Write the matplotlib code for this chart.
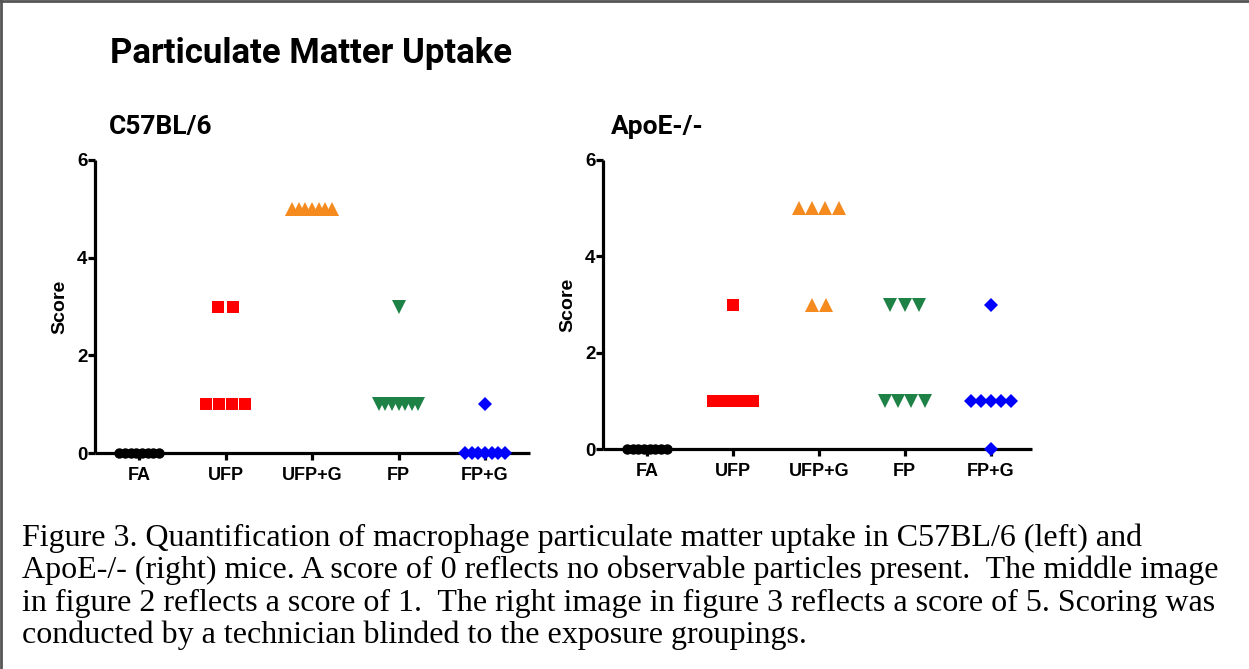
import matplotlib
matplotlib.use('Agg')
import matplotlib.pyplot as plt
import numpy as np
from matplotlib.lines import Line2D

# ---------------- data ----------------
categories = ['FA', 'UFP', 'UFP+G', 'FP', 'FP+G']

c57_FA = [0, 0, 0, 0, 0, 0, 0, 0]
c57_UFP = [3, 3, 1, 1, 1, 1]
c57_UFPG = [5, 5, 5, 5, 5, 5, 5]
c57_FP = [3, 1, 1, 1, 1, 1, 1, 1]
c57_FPG = [1, 0, 0, 0, 0, 0, 0, 0]

apoe_FA = [0, 0, 0, 0, 0, 0, 0, 0]
apoe_UFP = [3, 1, 1, 1, 1, 1, 1, 1]
apoe_UFPG = [5, 5, 5, 5, 3, 3]
apoe_FP = [3, 3, 3, 1, 1, 1, 1]
apoe_FPG = [3, 1, 1, 1, 1, 1, 0]

panel_titles = ['C57BL/6', 'ApoE-/-']
main_title = 'Particulate Matter Uptake'
y_label = 'Score'
y_ticks = [0, 2, 4, 6]
caption_lines = [
    'Figure 3. Quantification of macrophage particulate matter uptake in C57BL/6 (left) and',
    'ApoE-/- (right) mice. A score of 0 reflects no observable particles present.  The middle image',
    'in figure 2 reflects a score of 1.  The right image in figure 3 reflects a score of 5. Scoring was',
    'conducted by a technician blinded to the exposure groupings.',
]

# ---------------- style ----------------
markers = ['o', 's', '^', 'v', 'D']
colors = ['#000000', '#FF0000', '#F58A1F', '#1E8246', '#0000FF']
msizes = [7.5, 8.7, 9.5, 9.5, 7.2]

W, H = 1249, 669
fig = plt.figure(figsize=(W / 100, H / 100), dpi=100)
fig.patch.set_facecolor('white')

TITLE_FONT = ['Roboto', 'DejaVu Sans']
AX_FONT = ['Liberation Sans', 'DejaVu Sans']


def fx(px):
    return px / W


def fy(py):
    return 1 - py / H


def spread(values, max_sp=0.168, span=0.46):
    xs, ys = [], []
    vals = np.asarray(values, dtype=float)
    for v in np.unique(vals):
        n = int(np.sum(vals == v))
        sp = max_sp if n < 2 else min(max_sp, span / (n - 1))
        offs = (np.arange(n) - (n - 1) / 2) * sp
        xs.extend(offs)
        ys.extend([v] * n)
    return np.array(xs), np.array(ys)


def draw_panel(ax, groups, xlim):
    for i, vals in enumerate(groups):
        offs, ys = spread(vals)
        ax.plot(i + offs, ys, linestyle='none', marker=markers[i],
                color=colors[i], markersize=msizes[i], markeredgewidth=0,
                clip_on=False, zorder=5)
    ax.set_xlim(*xlim)
    ax.set_ylim(0, 6)
    ax.set_yticks(y_ticks)
    ax.set_xticks(range(len(categories)))
    ax.set_xticklabels(categories, fontfamily=AX_FONT, fontweight='bold', fontsize=13)
    ax.set_yticklabels([str(t) for t in y_ticks], fontfamily=AX_FONT,
                       fontweight='bold', fontsize=13.5)
    for s in ['top', 'right']:
        ax.spines[s].set_visible(False)
    for s in ['left', 'bottom']:
        ax.spines[s].set_linewidth(2.3)
        ax.spines[s].set_capstyle('butt')
    ax.tick_params(axis='both', direction='out', length=5, width=2.3, pad=0.5)
    ax.tick_params(axis='x', pad=5)
    ax.set_ylabel(y_label, fontfamily=AX_FONT, fontweight='bold', fontsize=14, labelpad=6)
    ax.patch.set_alpha(0)


# left panel
ax1 = fig.add_axes([fx(95), fy(453), fx(530 - 95), (453 - 160) / H])
draw_panel(ax1, [c57_FA, c57_UFP, c57_UFPG, c57_FP, c57_FPG], (-0.51, 4.52))

# right panel
ax2 = fig.add_axes([fx(603), fy(449), fx(1032 - 603), (449 - 160) / H])
draw_panel(ax2, [apoe_FA, apoe_UFP, apoe_UFPG, apoe_FP, apoe_FPG], (-0.51, 4.48))

# titles
fig.text(fx(110), fy(63), main_title, fontfamily=TITLE_FONT, fontweight='bold',
         fontsize=25, ha='left', va='baseline')
fig.text(fx(109), fy(134), panel_titles[0], fontfamily=TITLE_FONT, fontweight='bold',
         fontsize=19, ha='left', va='baseline')
fig.text(fx(611), fy(134), panel_titles[1], fontfamily=TITLE_FONT, fontweight='bold',
         fontsize=19, ha='left', va='baseline')

# caption
baselines = [546, 578, 611, 643]
for line, b in zip(caption_lines, baselines):
    fig.text(fx(22), fy(b), line, fontfamily=['Liberation Serif', 'DejaVu Serif'],
             fontsize=23, ha='left', va='baseline')

# frame (top and left only)
fig.add_artist(Line2D([0, 1], [fy(1), fy(1)], transform=fig.transFigure,
                      color='#555555', linewidth=2))
fig.add_artist(Line2D([fx(1), fx(1)], [0, 1], transform=fig.transFigure,
                      color='#555555', linewidth=2))

fig.savefig('out.png', dpi=100, facecolor='white')
